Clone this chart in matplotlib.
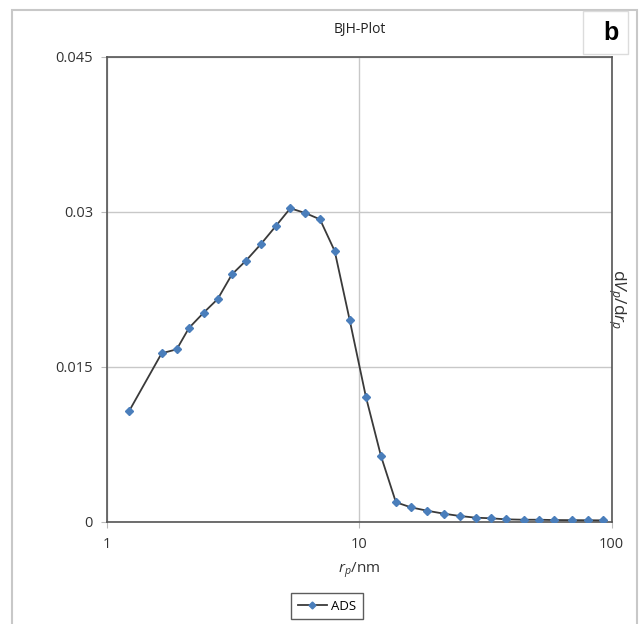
import matplotlib
matplotlib.use("Agg")
import matplotlib.pyplot as plt
from matplotlib.patches import Rectangle
from matplotlib.lines import Line2D
from matplotlib.ticker import FixedLocator, FixedFormatter, NullLocator

plt.rcParams['font.family'] = ['Open Sans', 'DejaVu Sans']
plt.rcParams['mathtext.fontset'] = 'custom'
plt.rcParams['mathtext.it'] = 'Open Sans:italic'
plt.rcParams['mathtext.rm'] = 'Open Sans'

# Data (pore radius r_p in nm, dV_p/dr_p)
r_p = [1.222, 1.647, 1.889, 2.113, 2.416, 2.746, 3.128, 3.554, 4.074, 4.660,
       5.325, 6.107, 6.982, 7.984, 9.155, 10.62, 12.18, 13.96, 16.01, 18.58,
       21.70, 25.04, 28.90, 33.22, 37.98, 44.77, 51.62, 59.19, 69.74, 80.48, 92.27]
dv = [0.01068, 0.01630, 0.01668, 0.01875, 0.02023, 0.02155, 0.02394, 0.02526,
      0.02687, 0.02859, 0.03033, 0.02987, 0.02926, 0.02620, 0.01952, 0.01207,
      0.00636, 0.00188, 0.00139, 0.00106, 0.00077, 0.00055, 0.00039, 0.00033,
      0.00023, 0.00019, 0.00019, 0.00016, 0.00015, 0.00014, 0.00013]

y_ticks = [0, 0.015, 0.03, 0.045]
y_tick_labels = ["0", "0.015", "0.03", "0.045"]
x_ticks = [1, 10, 100]
x_tick_labels = ["1", "10", "100"]

W, H = 641, 624
fig = plt.figure(figsize=(W / 100, H / 100), dpi=100)

# outer frame
fig.patches.append(Rectangle((12 / W, -0.1), (637 - 12) / W, 1.1 - 10 / H,
                             transform=fig.transFigure, fill=False,
                             edgecolor='#c8c8c8', linewidth=1.5, zorder=0))
# "b" panel box
fig.patches.append(Rectangle((583 / W, 1 - 54 / H), (628 - 583) / W, (54 - 11) / H,
                             transform=fig.transFigure, fill=False,
                             edgecolor='#dcdcdc', linewidth=1.0, zorder=0))
fig.text(611 / W, 1 - 33 / H, "b", fontsize=18, fontweight='bold',
         ha='center', va='center', family=['Liberation Sans', 'DejaVu Sans'])

ax = fig.add_axes([107 / W, 1 - 521.7 / H, (611.7 - 107) / W, (521.7 - 56.7) / H])
ax.set_xscale('log')
ax.set_xlim(1, 100)
ax.set_ylim(0, 0.045)

ax.plot(r_p, dv, color='#3a3a3a', linewidth=1.3, marker='D', markersize=4.5,
        markerfacecolor='#4a7ebb', markeredgecolor='#4a7ebb', zorder=3)

ax.xaxis.set_major_locator(FixedLocator(x_ticks))
ax.xaxis.set_major_formatter(FixedFormatter(x_tick_labels))
ax.xaxis.set_minor_locator(NullLocator())
ax.yaxis.set_major_locator(FixedLocator(y_ticks))
ax.yaxis.set_major_formatter(FixedFormatter(y_tick_labels))

ax.grid(True, color='#c8c8c8', linewidth=1.0, zorder=0)
for s in ax.spines.values():
    s.set_color('#555555')
    s.set_linewidth(1.2)
ax.tick_params(axis='both', length=4, width=0.8, color='#bbbbbb',
               labelsize=10.5, labelcolor='#333333')
ax.tick_params(axis='y', pad=6)
ax.tick_params(axis='x', pad=7)

ax.set_title("BJH-Plot", fontsize=10, color='#222222', pad=17)
ax.set_xlabel(r"$r_p$/nm", fontsize=11, color='#333333', labelpad=6)
ax.yaxis.set_label_position('right')
ax.set_ylabel(r"d$V_p$/d$r_p$", fontsize=12.5, color='#333333', rotation=270,
              va='center', ha='center')
ax.yaxis.set_label_coords(1.0095, 0.479)

handle = Line2D([], [], color='#3a3a3a', linewidth=1.3, marker='D', markersize=3.5,
                markerfacecolor='#4a7ebb', markeredgecolor='#4a7ebb')
leg = fig.legend([handle], ["ADS"], loc='center', bbox_to_anchor=(327 / W, 1 - 606 / H),
                 fontsize=9.5, frameon=True, fancybox=False, handlelength=2.2,
                 handletextpad=0.3, borderpad=0.5)
leg.get_frame().set_edgecolor('#333333')
leg.get_frame().set_linewidth(1.0)

fig.savefig("out.png", dpi=100)
